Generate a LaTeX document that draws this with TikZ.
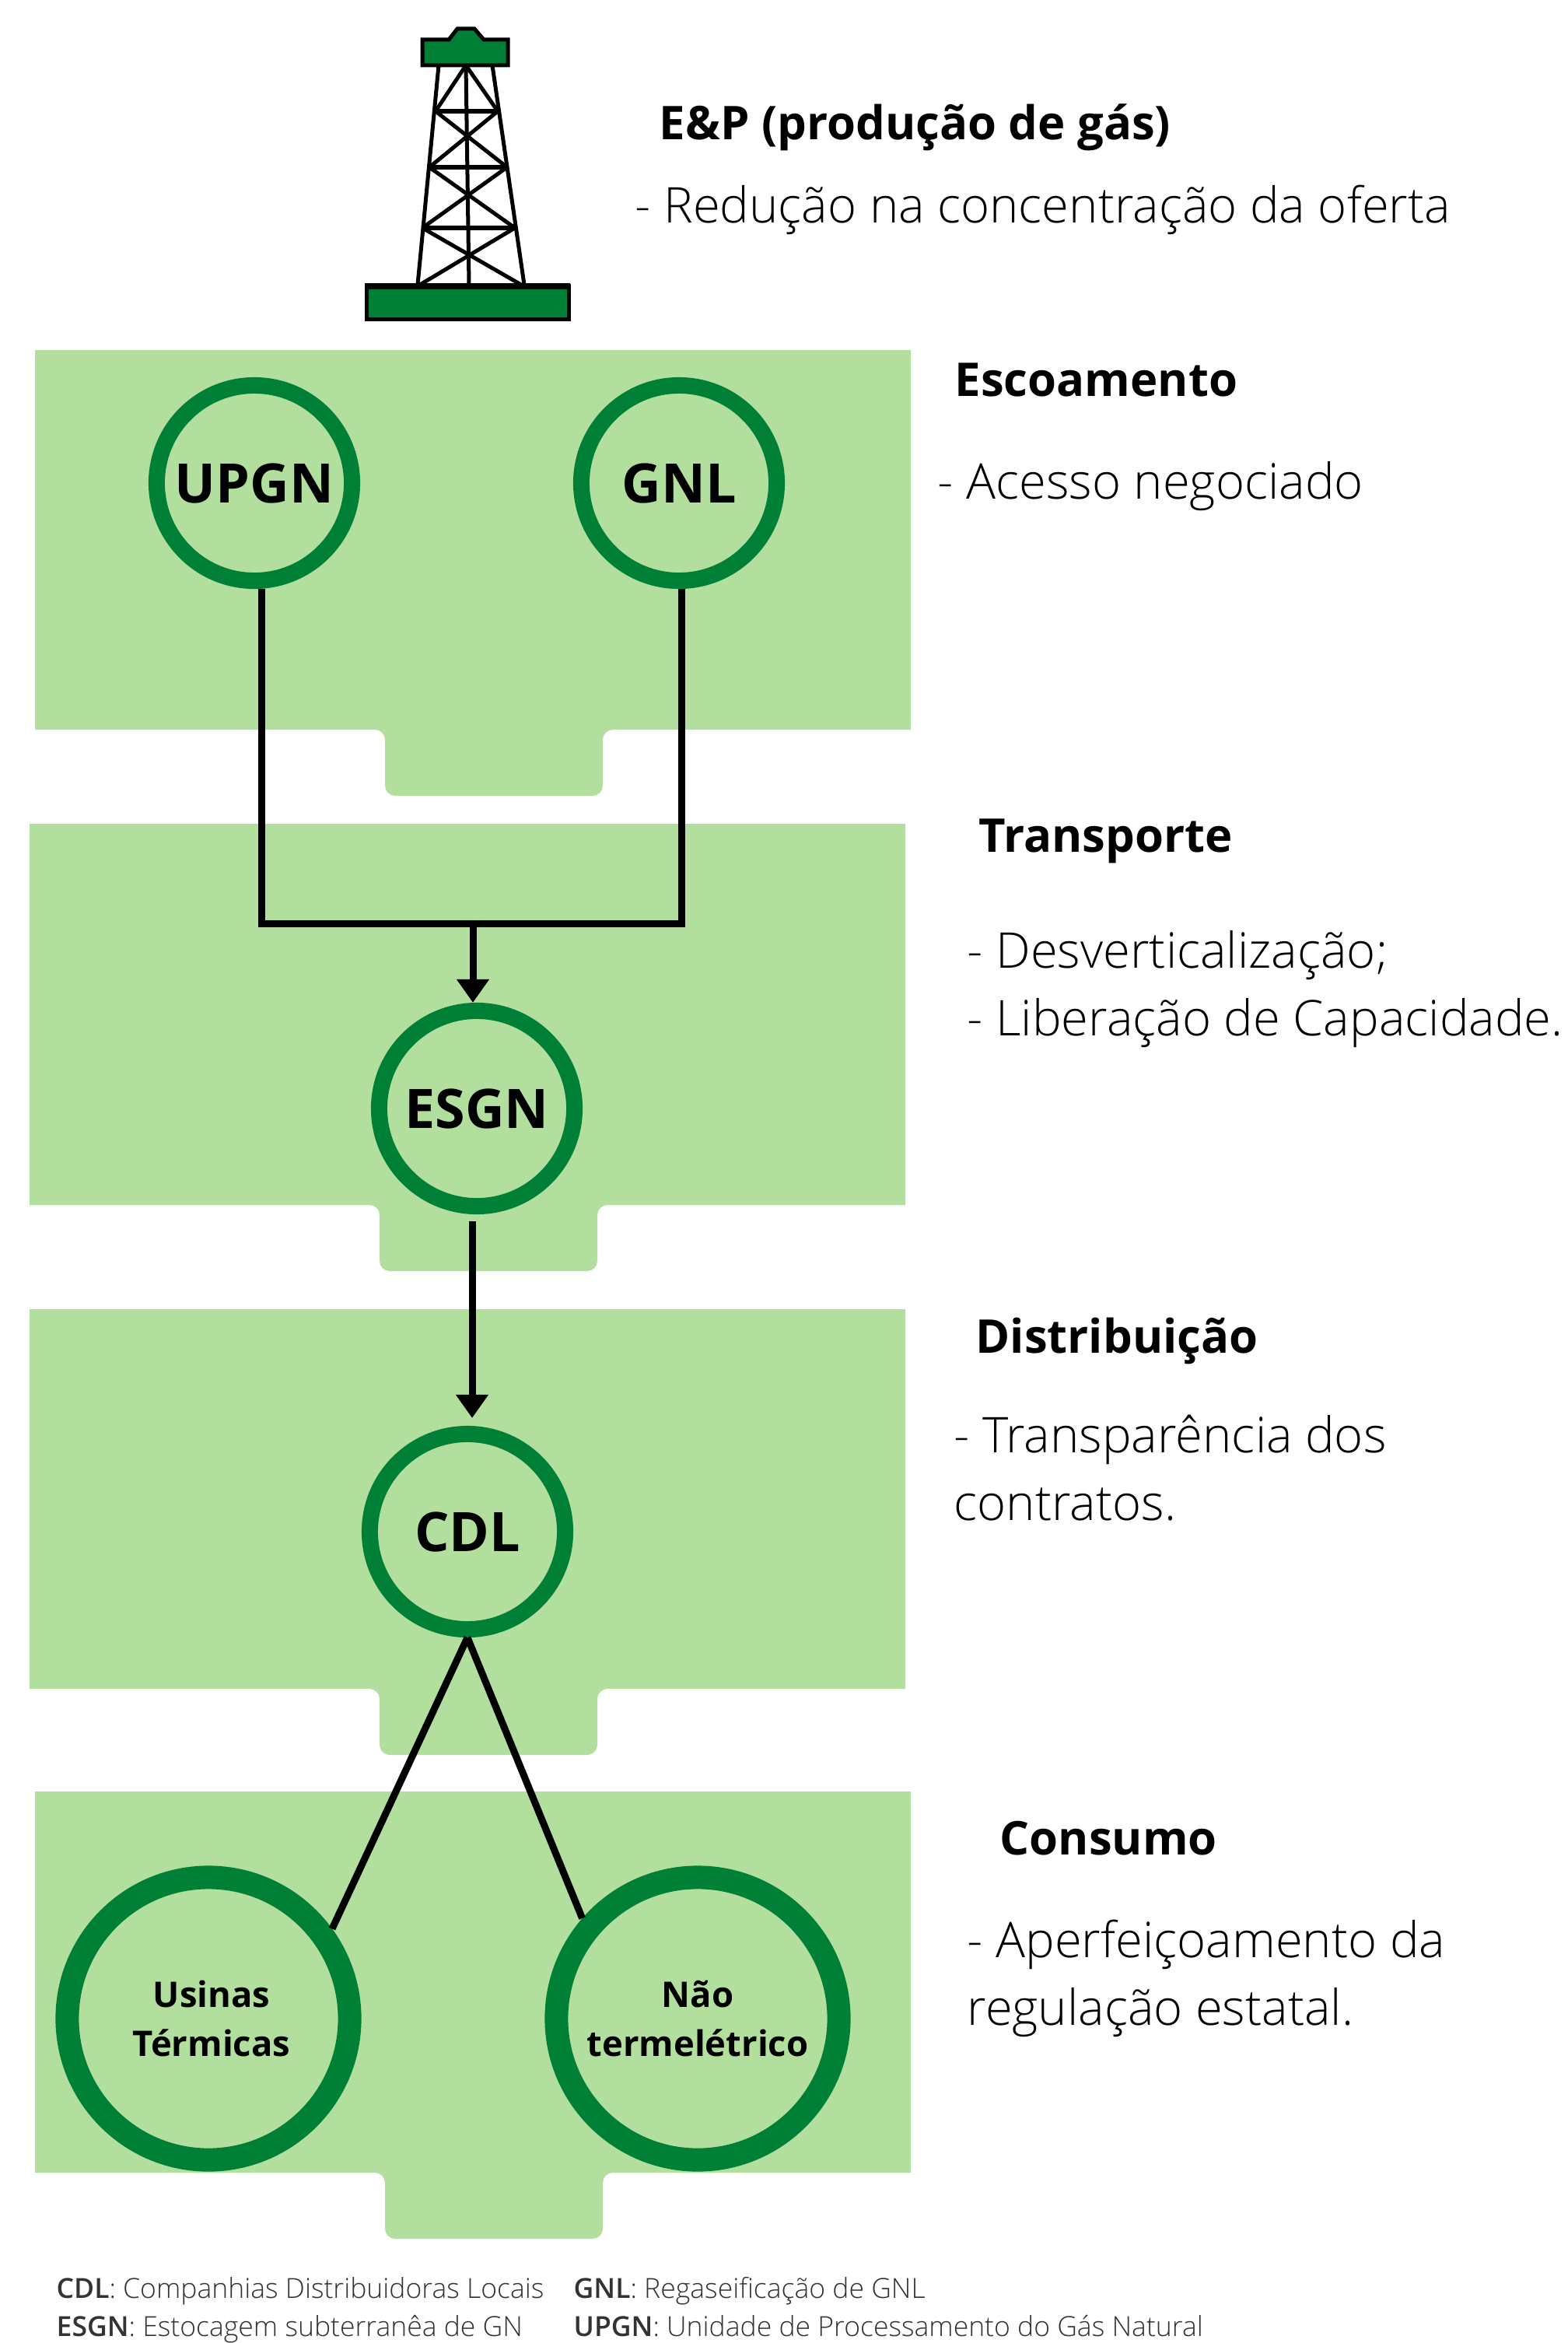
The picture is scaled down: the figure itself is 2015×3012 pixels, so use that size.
\documentclass[tikz,border=0pt]{standalone}
\usepackage{fontspec}
\setmainfont{Open Sans}
\newfontfamily\leve{Open Sans Light}
\usetikzlibrary{arrows.meta}
\definecolor{faixaverde}{HTML}{B2DF9E}
\definecolor{verde}{HTML}{008037}
\newcommand{\faixa}[3]{%
\fill[faixaverde] (#1,#2) -- (#1+1126,#2) -- (#1+1126,#3) -- (#1+743,#3) to[out=180,in=90] (#1+730,#3+13) -- (#1+730,#3+72) to[out=-90,in=0] (#1+717,#3+85) -- (#1+463,#3+85) to[out=180,in=-90] (#1+450,#3+72) -- (#1+450,#3+13) to[out=90,in=0] (#1+437,#3) -- (#1,#3) -- cycle;}
\tikzset{
anel/.style={circle,draw=verde,line width=0.21cm,minimum size=2.51cm,inner sep=0pt,font=\bfseries\fontsize{19.9}{24}\selectfont},
anelgrande/.style={circle,draw=verde,line width=0.3cm,minimum size=3.63cm,inner sep=0pt,align=center,font=\bfseries\fontsize{12.9}{17.9}\selectfont},
linha/.style={line width=0.09cm},
seta/.style={line width=0.09cm,-{Triangle[width=0.4cm,length=0.3cm]}},
torre/.style={line width=0.05cm},
titulo/.style={anchor=base west,inner sep=0pt,font=\bfseries\fontsize{17}{24}\selectfont},
corpo/.style={anchor=base west,inner sep=0pt,align=left,font=\leve\fontsize{18}{24.6}\selectfont},
legenda/.style={anchor=base west,inner sep=0pt,align=left,text=black!80,font=\leve\fontsize{10.1}{13.7}\selectfont}
}
\begin{document}
\begin{tikzpicture}[x=0.01cm,y=-0.01cm]
\useasboundingbox (0,0) rectangle (2015,3012);
\faixa{45}{450}{938}
\faixa{38}{1059}{1549}
\faixa{38}{1683}{2171}
\faixa{45}{2303}{2793}

\draw[torre] (564,84) -- (537,366) (633,84) -- (674,366) (599,84) -- (603,366);
\draw[torre] (560,143) -- (640,143) (552,215) -- (652,215) (543,293) -- (662,293);
\draw[torre] (560,143) -- (599,84) -- (640,143);
\draw[torre] (560,143) -- (652,215) (640,143) -- (552,215);
\draw[torre] (552,215) -- (662,293) (652,215) -- (543,293);
\draw[torre] (543,293) -- (670,366) (662,293) -- (540,366);
\draw[torre,fill=verde] (543,84) -- (543,51) -- (577,51) -- (588,37) -- (610,37) -- (622,51) -- (653,51) -- (653,84) -- cycle;
\draw[torre,fill=verde] (471,368) rectangle (731,410);
\draw[line width=0.07cm] (469,368) -- (733,368);

\node[anel] (upgn) at (327,621) {UPGN};
\node[anel] (gnl) at (873,621) {GNL};
\node[anel] (esgn) at (613,1425) {ESGN};
\node[anel] (cdl) at (601,1969) {CDL};
\node[anelgrande] (usinas) at (268,2595) {\hspace*{0.08cm}Usinas\\\hspace*{0.08cm}Térmicas};
\node[anelgrande] (nao) at (897,2595) {Não\\termelétrico};

\coordinate (cantoe) at (336,1187);
\coordinate (cantod) at (876,1187);
\coordinate (juncao) at (608,1187);
\coordinate (saida) at (607,1570);
\draw[linha] (upgn.south -| cantoe) -- (cantoe) -- (cantod) -- (gnl.south -| cantod);
\draw[seta] (juncao) -- (esgn.north -| juncao);
\draw[seta,shorten >=0.1cm] (saida) -- (cdl.north -| saida);
\draw[linha] (cdl.south) -- (usinas.36);
\draw[linha] (cdl.south) -- (nao.139);

\node[titulo] (tep) at (847,180) {E\&P (produção de gás)};
\node[corpo] (cep) at (816,286) {- Redução na concentração da oferta};
\node[titulo] (tesc) at (1227,509) {Escoamento};
\node[corpo] (cesc) at (1205,641) {- Acesso negociado};
\node[titulo] (ttra) at (1258,1095) {Transporte};
\node[corpo] (ctra) at (1243,1331) {- Desverticalização;\\- Liberação de Capacidade.};
\node[titulo] (tdis) at (1254,1739) {Distribuição};
\node[corpo] (cdis) at (1226,1954) {- Transparência dos\\contratos.};
\node[titulo] (tcon) at (1285,2384) {Consumo};
\node[corpo] (ccon) at (1243,2603) {- Aperfeiçoamento da\\regulação estatal.};

\node[legenda] (lege) at (72,3003) {\textbf{CDL}: Companhias Distribuidoras Locais\\\textbf{ESGN}: Estocagem subterranêa de GN};
\node[legenda] (legd) at (737,3003) {\textbf{GNL}: Regaseificação de GNL\\\textbf{UPGN}: Unidade de Processamento do Gás Natural};
\end{tikzpicture}
\end{document}
